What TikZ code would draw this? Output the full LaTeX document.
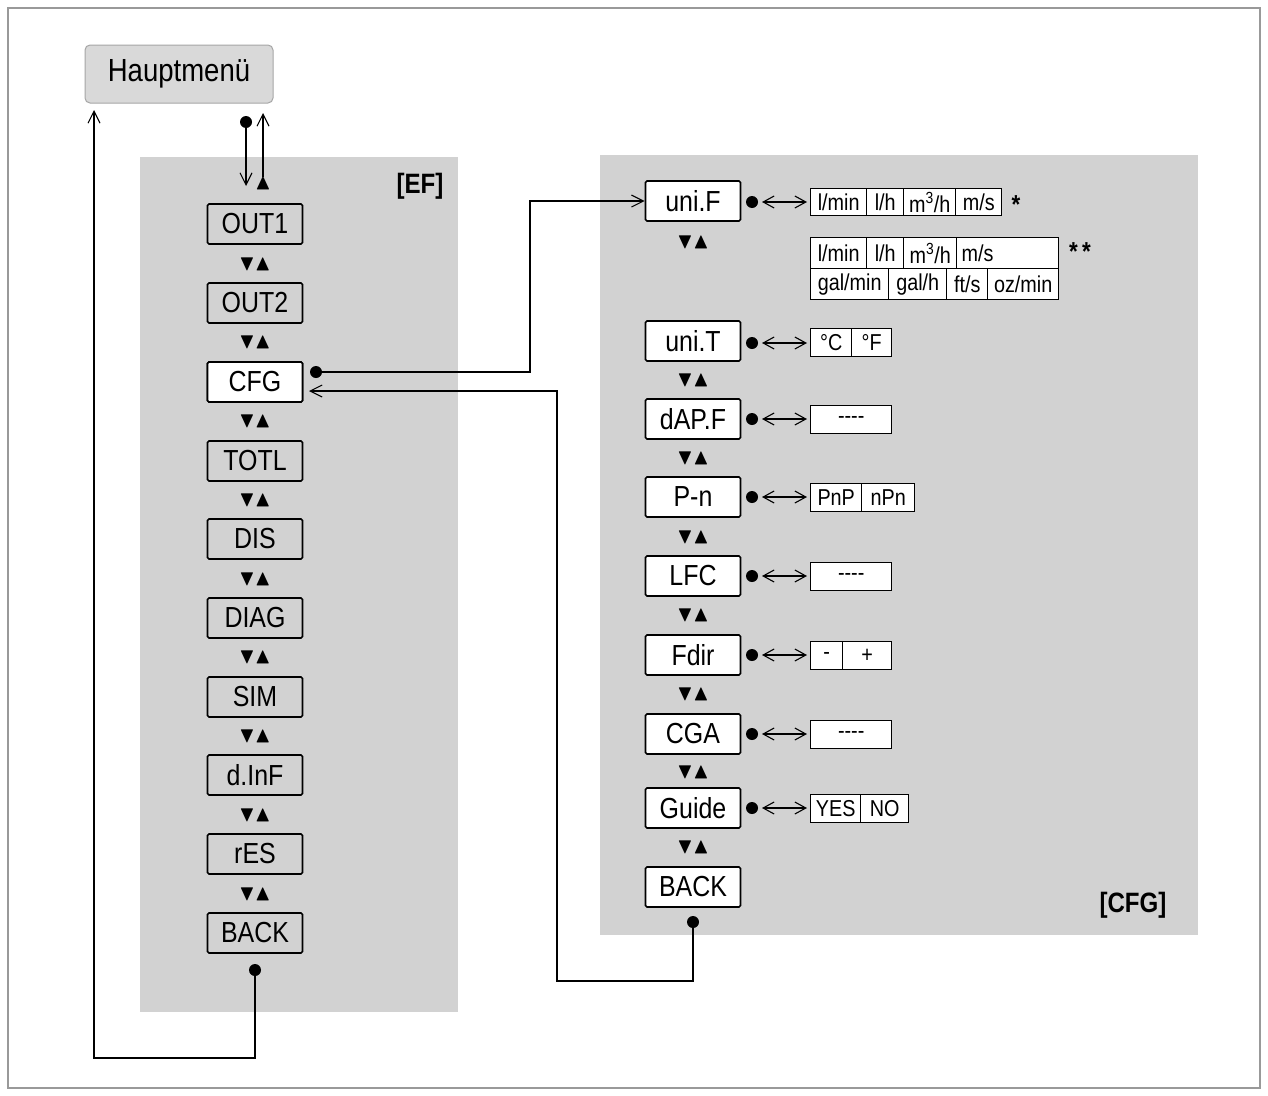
\documentclass[tikz,border=0pt]{standalone}
\usepackage{amssymb}
\usepackage{fontspec}
\setmainfont{Liberation Sans}[FakeStretch=0.86]
\usetikzlibrary{arrows.meta}
\begin{document}
\begin{tikzpicture}[x=1pt,y=-1pt,
  box/.style={draw=black,line width=1.6pt,rounded corners=1.5pt,minimum width=95pt,minimum height=40pt,inner sep=0pt,font=\fontsize{29}{29}\selectfont},
  cell/.style={draw=black,line width=1.4pt,fill=white,inner sep=0pt,font=\fontsize{23}{23}\selectfont},
  ud/.style={font=\fontsize{22}{22}\selectfont,inner sep=0pt},
  dot/.style={circle,fill=black,inner sep=0pt,minimum size=12pt},
  arr/.style={line width=1.1pt,-{Straight Barb[length=12pt,width=12pt]}},
  darr/.style={line width=1.1pt,{Straight Barb[length=11pt,width=12pt]}-{Straight Barb[length=11pt,width=12pt]}}]
\useasboundingbox (0,0) rectangle (1268,1095);
\fill[white] (0,0) rectangle (1268,1095);
\draw[gray!80,line width=1.2pt] (8,8) rectangle (1260,1088);
\node[draw=gray!70,fill=gray!30,rounded corners=5pt,line width=1pt,minimum width=188pt,minimum height=58pt,font=\fontsize{32}{32}\selectfont] (hm) at (179,74) {Hauptmenü};
\fill[gray!35] (140,157) rectangle (458,1012);
\fill[gray!35] (600,155) rectangle (1198,935);
\node[font=\bfseries\fontsize{28}{28}\selectfont] (ef) at (420,186) {[EF]};
\node[font=\bfseries\fontsize{28}{28}\selectfont] (cfgl) at (1133,905) {[CFG]};
% EF list
\foreach \n/\t/\y in {o1/OUT1/224,o2/OUT2/303,cfg/CFG/382,totl/TOTL/461,dis/DIS/539,diag/DIAG/618,sim/SIM/697,dinf/d.InF/775,res/rES/854,back/BACK/933}
  \node[box,fill=gray!35] (\n) at (255,\y) {\t};
\node[box,fill=white] at (cfg) {CFG};
\foreach \y in {264,342,421,500,579,657,736,815,894}
  \node[ud] at (255,\y) {$\blacktriangledown\blacktriangle$};
% top connections
\node[dot] (d0) at (246,122) {};
\coordinate (a0) at (246,186);
\draw[arr] (d0) -- (a0);
\node[ud] (up0) at (263,183) {$\blacktriangle$};
\coordinate (u1) at (263,113);
\draw[arr] (up0.north) -- (u1);
\node[dot] (d1) at (255,970) {};
\coordinate (b1) at (255,1058);
\coordinate (b2) at (94,1058);
\coordinate (b3) at (94,110);
\draw[arr] (d1) -- (b1) -- (b2) -- (b3);
% CFG list
\foreach \n/\t/\y in {unif/uni.F/201,unit/uni.T/341,dapf/dAP.F/419,pn/P-n/497,lfc/LFC/576,fdir/Fdir/655,cga/CGA/734,guide/Guide/808,cback/BACK/887}
  \node[box,fill=white] (\n) at (693,\y) {\t};
\foreach \y in {242,380,458,537,615,694,772,847}
  \node[ud] at (693,\y) {$\blacktriangledown\blacktriangle$};
\node[dot] (dc) at (316,372) {};
\coordinate (c1) at (530,372);
\coordinate (c2) at (530,201);
\draw[arr] (dc) -- (c1) -- (c2) -- (unif.west);
\node[dot] (db) at (693,922) {};
\coordinate (e1) at (693,981);
\coordinate (e2) at (557,981);
\coordinate (e3) at (557,391);
\coordinate (e4) at (309,391);
\draw[arr] (db) -- (e1) -- (e2) -- (e3) -- (e4);
% dots and double arrows
\foreach \n/\y in {unif/202,unit/343,dapf/419,pn/497,lfc/576,fdir/655,cga/734,guide/808}{
  \node[dot] (\n d) at (752,\y) {};
  \coordinate (\n s) at (762,\y);
  \coordinate (\n e) at (807,\y);
  \draw[darr] (\n s) -- (\n e);
}
% option cells
\newcommand\cellrow[3]{%
  \foreach \xa/\xb/\t in {#3}
    \node[cell,minimum width={\xb-\xa},minimum height=#2,anchor=north west] at (\xa,#1) {\t};
}
\newcommand\dsh{-{}-{}-{}-}
\cellrow{188}{27}{810/866/{l/min},866/903/{l/h},903/955/{m\textsuperscript{3}/h},955/1001/{m/s}}
\node[font=\bfseries\fontsize{26}{26}\selectfont] (s1) at (1016,205) {*};
\cellrow{237}{31}{810/866/{l/min},866/903/{l/h},903/956/{m\textsuperscript{3}/h}}
\node[cell,minimum width=102,minimum height=31,anchor=north west,text width=92pt,align=left] at (956,237) {m/s};
\cellrow{268}{31}{810/888/{gal/min},888/946/{gal/h},946/987/{ft/s},987/1058/{oz/min}}
\node[font=\bfseries\fontsize{26}{26}\selectfont] (s2) at (1080,252) {*\,*};
\cellrow{328}{28}{810/851/°C,851/891/°F}
\cellrow{405}{28}{810/891/\dsh}
\cellrow{483}{28}{810/861/PnP,861/914/nPn}
\cellrow{562}{28}{810/891/\dsh}
\cellrow{641}{28}{810/842/-,842/891/+}
\cellrow{720}{28}{810/891/\dsh}
\cellrow{794}{28}{810/860/YES,860/908/NO}
\end{tikzpicture}
\end{document}
